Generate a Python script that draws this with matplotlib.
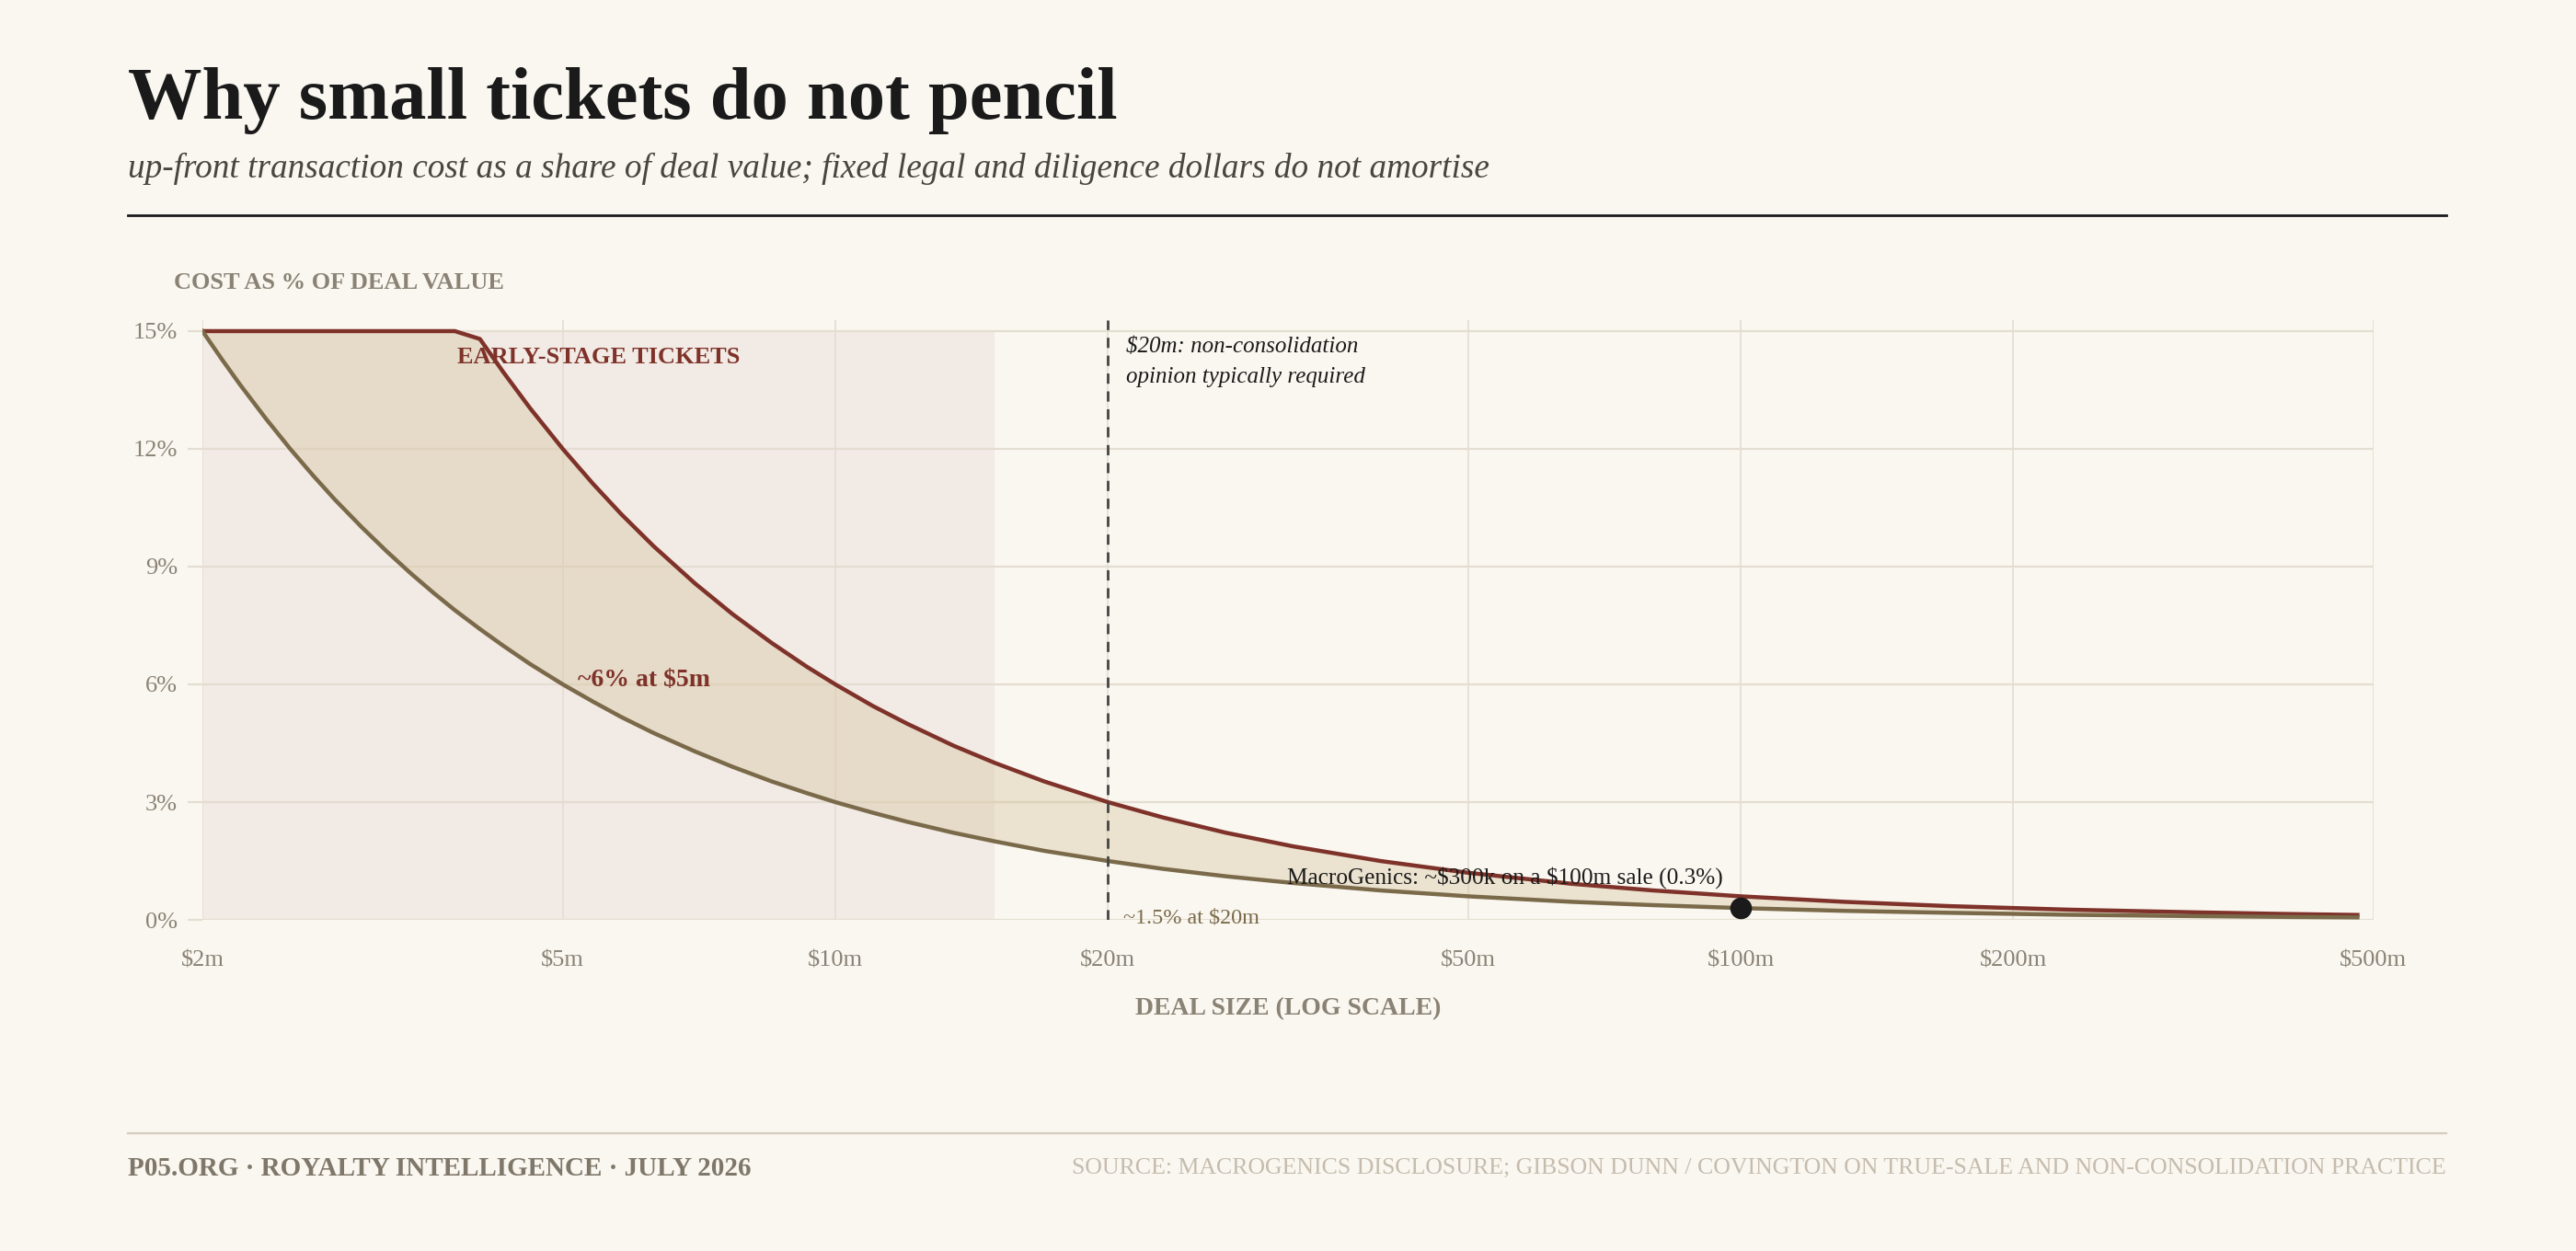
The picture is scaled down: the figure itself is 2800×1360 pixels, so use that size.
import matplotlib
matplotlib.use("Agg")
import matplotlib.pyplot as plt
import numpy as np

# deal size in $m and up-front cost as % of deal value
deal_m = [2, 2.1, 2.2, 2.35, 2.5, 2.65, 2.8, 3, 3.2, 3.4,
          3.6, 3.8, 4.05, 4.3, 4.6, 5, 5.4, 5.8, 6.3, 7,
          7.7, 8.5, 9.3, 10, 11, 12, 13.5, 15, 17, 20,
          23, 27, 32, 40, 50, 65, 80, 100, 130, 170,
          230, 320, 400, 480]
cost_low = [15.0, 14.29, 13.64, 12.77, 12.0, 11.32, 10.71, 10.0, 9.375, 8.82,
            8.33, 7.89, 7.41, 6.98, 6.52, 6.0, 5.56, 5.17, 4.76, 4.29,
            3.9, 3.53, 3.23, 3.0, 2.73, 2.5, 2.22, 2.0, 1.76, 1.5,
            1.3, 1.11, 0.94, 0.75, 0.6, 0.46, 0.375, 0.3, 0.23, 0.18,
            0.13, 0.094, 0.075, 0.0625]
cost_high = [15, 15, 15, 15, 15, 15, 15, 15, 15, 15,
             15, 15, 14.8, 13.95, 13.04, 12.0, 11.11, 10.34, 9.52, 8.57,
             7.79, 7.06, 6.45, 6.0, 5.45, 5.0, 4.44, 4.0, 3.53, 3.0,
             2.61, 2.22, 1.875, 1.5, 1.2, 0.92, 0.75, 0.6, 0.46, 0.35,
             0.26, 0.19, 0.15, 0.125]

x_ticks = [2, 5, 10, 20, 50, 100, 200, 500]
x_tick_labels = ["$2m", "$5m", "$10m", "$20m", "$50m", "$100m", "$200m", "$500m"]
y_ticks = [0, 3, 6, 9, 12, 15]
y_tick_labels = ["0%", "3%", "6%", "9%", "12%", "15%"]

early_stage = (2, 15)       # shaded ticket range, $m
threshold_m = 20            # non-consolidation opinion threshold
macrogenics = (100, 0.3)    # $100m sale, 0.3%

BG = "#FAF7F0"
RED = "#7E3229"
OLIVE = "#7A6A4A"
GRID = "#E4DDD2"
GREY = "#8A8275"
INK = "#1A1A1A"

plt.rcParams["font.family"] = ["Liberation Serif", "DejaVu Serif"]
plt.rcParams["text.parse_math"] = False  # lots of dollar signs

fig = plt.figure(figsize=(14, 6.8), dpi=200, facecolor=BG)
ax = fig.add_axes([0.0786, 0.2647, 0.8428, 0.4794])
ax.set_facecolor(BG)
ax.set_xscale("log")
ax.set_xlim(2, 500)
ax.set_ylim(0, 15.28)

# early-stage band
ax.fill_between(early_stage, 0, 15, color="#F2EAE4", lw=0, zorder=0)

# grid
for v in y_ticks:
    ax.axhline(v, color=GRID, lw=0.8, zorder=1)
for v in x_ticks:
    ax.axvline(v, color=GRID, lw=0.6, zorder=1)

ax.fill_between(deal_m, cost_low, cost_high, color="#D6C49E", alpha=0.4, lw=0, zorder=2)
ax.plot(deal_m, cost_high, color=RED, lw=1.6, zorder=3)
ax.plot(deal_m, cost_low, color=OLIVE, lw=1.6, zorder=3)

ax.axvline(threshold_m, color="#444444", lw=1.0, dashes=(4, 3), zorder=4)
ax.plot(*macrogenics, "o", color=INK, ms=7.5, zorder=5)

for s in ax.spines.values():
    s.set_visible(False)
ax.set_xticks(x_ticks)
ax.set_xticklabels(x_tick_labels)
ax.xaxis.set_minor_locator(matplotlib.ticker.NullLocator())
ax.set_yticks(y_ticks)
ax.set_yticklabels(y_tick_labels)
ax.tick_params(axis="x", length=0, pad=12, labelsize=9.5, labelcolor=GREY)
ax.tick_params(axis="y", length=5.8, width=0.8, color=GRID, pad=4, labelsize=9.5, labelcolor=GREY)

# annotations
ax.text(np.sqrt(early_stage[0] * early_stage[1]), 14.34, "EARLY-STAGE TICKETS",
        color=RED, fontsize=9.5, fontweight="bold", ha="center", va="center", zorder=6)
ax.text(5.2, 6.1, "~6% at $5m", color=RED, fontsize=10, fontweight="bold",
        ha="left", va="center", zorder=6)
ax.annotate("$20m: non-consolidation\nopinion typically required", (threshold_m, 14.85),
            xytext=(7, 0), textcoords="offset points", fontsize=9, style="italic",
            color=INK, ha="left", va="top", linespacing=1.6, zorder=6)
ax.annotate("~1.5% at $20m", (threshold_m, 0.05), xytext=(6, 0), textcoords="offset points",
            fontsize=8.7, color=OLIVE, ha="left", va="center", zorder=6)
ax.annotate("MacroGenics: ~$300k on a $100m sale (0.3%)", macrogenics, xytext=(-7, 12),
            textcoords="offset points", fontsize=9.1, color=INK, ha="right", va="center", zorder=6)

# titles and labels
fig.text(0.0496, 0.905, "Why small tickets do not pencil", fontsize=29, fontweight="bold",
         color=INK, ha="left", va="baseline")
fig.text(0.0496, 0.858, "up-front transaction cost as a share of deal value; fixed legal "
         "and diligence dollars do not amortise", fontsize=13.4, style="italic",
         color="#4A4540", ha="left", va="baseline")
fig.add_artist(plt.Line2D([0.0496, 0.9496], [0.828, 0.828], color=INK, lw=1.0))
fig.text(0.0675, 0.774, "COST AS % OF DEAL VALUE", fontsize=9.5, fontweight="bold",
         color=GREY, ha="left", va="center")
fig.text(0.5, 0.194, "DEAL SIZE (LOG SCALE)", fontsize=10, fontweight="bold",
         color=GREY, ha="center", va="center")

fig.add_artist(plt.Line2D([0.0496, 0.9496], [0.094, 0.094], color="#D4CCBE", lw=0.8))
fig.text(0.0496, 0.066, "P05.ORG · ROYALTY INTELLIGENCE · JULY 2026", fontsize=10.5,
         fontweight="bold", color="#7F776A", ha="left", va="center")
fig.text(0.9496, 0.066, "SOURCE: MACROGENICS DISCLOSURE; GIBSON DUNN / COVINGTON ON "
         "TRUE-SALE AND NON-CONSOLIDATION PRACTICE", fontsize=9.3, color="#C5BCAE",
         ha="right", va="center")

fig.savefig("out.png", dpi=200, facecolor=BG)
